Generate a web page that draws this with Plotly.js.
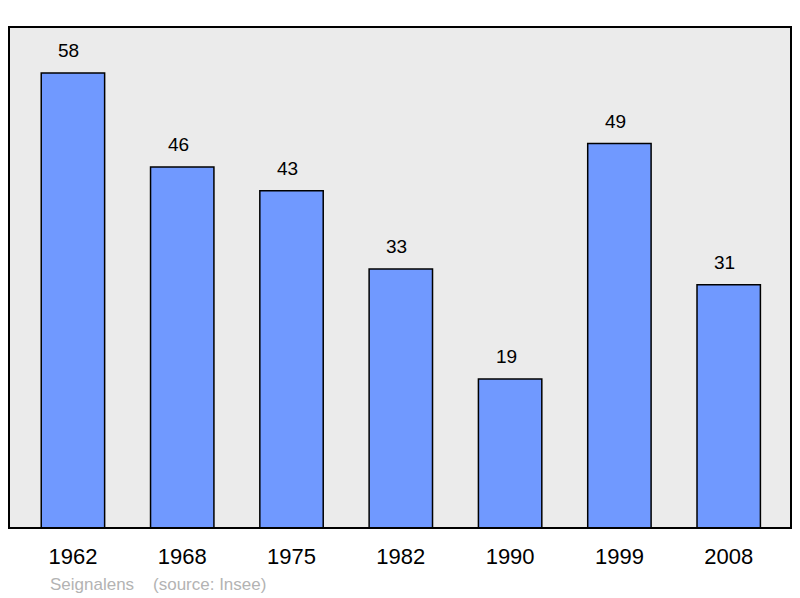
<!DOCTYPE html>
<html>
<head>
<meta charset="utf-8">
<script src="https://cdn.plot.ly/plotly-3.0.1.min.js"></script>
<style>html,body{margin:0;padding:0;background:#fff;}#chart{width:800px;height:598px;}</style>
</head>
<body>
<div id="chart"></div>
<script>
const years = ["1962", "1968", "1975", "1982", "1990", "1999", "2008"];
const population = [58, 46, 43, 33, 19, 49, 31];
const footerText = "Seignalens&nbsp;&nbsp;&nbsp;&nbsp;(source: Insee)";

const trace = {
  type: "bar",
  x: years,
  y: population,
  width: 0.58,
  marker: {color: "#7099ff", line: {color: "#000", width: 1.5}},
  hoverinfo: "none"
};

const annotations = years.map((yr, i) => ({
  x: i, y: population[i], xref: "x", yref: "y",
  text: String(population[i]), showarrow: false,
  yanchor: "bottom", yshift: 10, xshift: -4,
  font: {family: "Liberation Sans, Arial, sans-serif", size: 19, color: "#000"}
}));
annotations.push({
  xref: "paper", yref: "paper", x: 0.05, y: -0.112, xanchor: "left", yanchor: "middle",
  text: footerText, showarrow: false,
  font: {family: "Liberation Sans, Arial, sans-serif", size: 17, color: "#b3b3b3"}
});

const layout = {
  width: 800, height: 598,
  margin: {l: 9, r: 9, t: 27, b: 70},
  paper_bgcolor: "#fff",
  plot_bgcolor: "#ebebeb",
  showlegend: false,
  xaxis: {
    type: "category", range: [-0.585, 6.57],
    showgrid: false, zeroline: false, showline: false, ticks: "",
    ticklabelstandoff: 13,
    tickfont: {family: "Liberation Sans, Arial, sans-serif", size: 22, color: "#000"}
  },
  yaxis: {
    range: [0, 63.86], showgrid: false, zeroline: false, showticklabels: false, ticks: "", showline: false
  },
  shapes: [{
    type: "rect", xref: "paper", yref: "paper", x0: 0, x1: 1, y0: 0, y1: 1,
    line: {color: "#000", width: 2}, fillcolor: "rgba(0,0,0,0)", layer: "above"
  }],
  annotations: annotations
};

Plotly.newPlot("chart", [trace], layout, {staticPlot: true, displayModeBar: false});
</script>
</body>
</html>
